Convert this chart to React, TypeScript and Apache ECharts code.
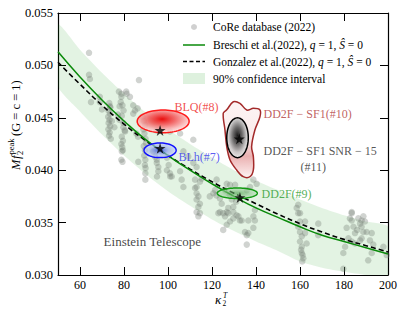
import React, { useEffect, useRef } from 'react';
import * as echarts from 'echarts';

// ---------- data ----------
const xTicks = [60, 80, 100, 120, 140, 160, 180, 200];
const yTicks = [0.030, 0.035, 0.040, 0.045, 0.050, 0.055];

const curveK = [50, 60, 70, 80, 90, 100, 110, 120, 130, 140, 150, 160, 170, 180, 190, 200];
const breschiV = [0.0513, 0.0489, 0.0467, 0.0447, 0.0429, 0.0414, 0.0400, 0.0387, 0.0375, 0.0364, 0.0355, 0.0346, 0.0338, 0.0332, 0.0326, 0.0320];
const gonzalezV = [0.0503, 0.0482, 0.0462, 0.0444, 0.0428, 0.0414, 0.0401, 0.0389, 0.0378, 0.0368, 0.0358, 0.0349, 0.0341, 0.0334, 0.0328, 0.0322];
const bandUpperV = [0.0539, 0.0515, 0.0493, 0.0473, 0.0455, 0.0439, 0.0425, 0.0412, 0.0400, 0.0390, 0.0381, 0.0372, 0.0364, 0.0357, 0.0351, 0.0346];
const bandLowerV = [0.0480, 0.0456, 0.0434, 0.0414, 0.0396, 0.0380, 0.0366, 0.0353, 0.0342, 0.0332, 0.0323, 0.0313, 0.0307, 0.0303, 0.0300, 0.0298];

const coreK = [
  64.1, 64.1, 64.5, 65.0, 69.0, 69.0, 70.0,
  73.3, 73.8, 72.9, 73.6, 72.8, 73.4, 73.0, 73.7, 72.9, 73.5, 73.2, 74.5, 75.6, 74.0, 73.6,
  77.7, 78.8, 81.0, 78.8, 78.5, 78.0, 77.3, 78.0, 79.7, 80.5, 79.0, 80.3, 79.5, 78.8, 79.2, 79.5, 79.0, 78.8, 79.3, 79.3, 79.8, 79.0, 79.7,
  81.2, 82.7, 84.2, 85.0, 84.2, 86.2, 86.4, 85.6, 86.8, 86.5,
  88.5, 89.0, 89.6, 88.8, 89.3, 89.8, 90.0, 89.0, 89.5, 89.2, 89.7, 89.5, 89.8, 89.7, 89.7,
  93.3, 94.1, 94.9, 95.0, 95.6, 94.8, 94.9, 95.6,
  99.5, 100.3, 99.5, 101.0, 100.9, 101.7, 100.9,
  105.5, 106.2, 107.0, 105.5, 107.0, 109.2,
  111.5, 113.0, 112.3, 113.0, 112.3, 113.0, 113.8, 113.0, 114.5, 113.8, 113.0, 113.8, 114.5, 114.5, 115.3, 111.5,
  119.0, 121.4, 122.1, 120.6, 122.0, 123.6, 124.4, 122.9, 125.9, 126.7, 125.1, 128.2, 127.4, 123.6, 125.1, 127.4, 126.7, 128.2, 125.9, 128.0, 129.0, 129.7, 126.7,
  129.7, 132.0, 133.5, 129.7, 136.5, 138.8, 135.0, 135.8, 135.8, 136.5, 138.8, 139.5, 131.2, 132.7, 130.5, 138.8, 137.3, 135.8, 140.3, 139.5, 131.0,
  158.5, 159.2, 160.0, 159.2, 160.0, 159.2, 160.0, 160.8, 160.0, 160.8, 160.8, 161.5, 161.0, 162.3, 162.3, 163.0, 160.5, 161.2,
  168.3, 168.3,
  181.2, 182.0, 180.5, 179.7, 179.7, 183.5, 182.7, 186.5, 187.3, 183.5, 184.3, 185.0, 186.0, 187.3, 183.5, 185.0, 188.0, 188.8, 189.5, 188.0, 188.8, 188.0, 190.3, 192.6, 191.8, 193.3, 192.6, 191.0, 197.9, 199.4, 183.5,
];
const coreV = [
  0.0512, 0.0491, 0.0487, 0.0465, 0.0470, 0.0465, 0.0458,
  0.0464, 0.0460, 0.0457, 0.0454, 0.0451, 0.0448, 0.0445, 0.0442, 0.0439, 0.0436, 0.0433, 0.0447, 0.0441, 0.0430, 0.0461,
  0.0475, 0.0473, 0.0475, 0.0470, 0.0465, 0.0461, 0.0453, 0.0448, 0.0441, 0.0437, 0.0432, 0.0438, 0.0428, 0.0425, 0.0422, 0.0419, 0.0418, 0.0410, 0.0408, 0.0462, 0.0457, 0.0452, 0.0445,
  0.0473, 0.0470, 0.0462, 0.0457, 0.0454, 0.0459, 0.0432, 0.0435, 0.0486, 0.0408,
  0.0451, 0.0447, 0.0443, 0.0439, 0.0435, 0.0430, 0.0426, 0.0423, 0.0419, 0.0414, 0.0410, 0.0405, 0.0402, 0.0397, 0.0391,
  0.0418, 0.0413, 0.0407, 0.0394, 0.0399, 0.0438, 0.0410, 0.0403,
  0.0412, 0.0405, 0.0400, 0.0394, 0.0397, 0.0394, 0.0437,
  0.0399, 0.0391, 0.0384, 0.0435, 0.0418, 0.0413,
  0.0407, 0.0403, 0.0391, 0.0384, 0.0383, 0.0378, 0.0375, 0.0372, 0.0368, 0.0365, 0.0360, 0.0356, 0.0359, 0.0389, 0.0392, 0.0429,
  0.0375, 0.0381, 0.0391, 0.0378, 0.0376, 0.0373, 0.0368, 0.0359, 0.0356, 0.0348, 0.0343, 0.0351, 0.0359, 0.0360, 0.0359, 0.0364, 0.0387, 0.0386, 0.0381, 0.0376, 0.0372, 0.0365, 0.0360,
  0.0360, 0.0356, 0.0352, 0.0354, 0.0352, 0.0345, 0.0341, 0.0338, 0.0329, 0.0340, 0.0356, 0.0362, 0.0357, 0.0352, 0.0386, 0.0391, 0.0384, 0.0381, 0.0387, 0.0352, 0.0370,
  0.0364, 0.0367, 0.0359, 0.0359, 0.0351, 0.0346, 0.0341, 0.0337, 0.0332, 0.0327, 0.0321, 0.0316, 0.0313, 0.0351, 0.0340, 0.0330, 0.0324, 0.0319,
  0.0349, 0.0338,
  0.0345, 0.0335, 0.0327, 0.0321, 0.0306, 0.0359, 0.0354, 0.0354, 0.0349, 0.0352, 0.0346, 0.0340, 0.0343, 0.0333, 0.0332, 0.0330, 0.0352, 0.0356, 0.0351, 0.0346, 0.0341, 0.0335, 0.0341, 0.0340, 0.0333, 0.0329, 0.0321, 0.0314, 0.0327, 0.0319, 0.0360,
];

// posterior contours (ellipses): BLQ, BLh, DD2F-SF1 SNR-15, DD2F
const ellipseK = [97.8, 96.4, 131.6, 131.5];
const ellipseV = [0.04466, 0.0419, 0.0431, 0.0378];
const ellipseRK = [11.8, 7.3, 4.9, 9.1];
const ellipseRV = [0.00108, 0.0007, 0.0019, 0.0005];

// DD2F-SF1 (#10) irregular contour
const sf1K = [129.7, 126.7, 125.1, 125.9, 126.7, 128.2, 131.2, 134.2, 137.3, 138.8, 138.8, 138.0, 139.5, 141.8, 141.8, 138.8, 135.8, 132.7];
const sf1V = [0.04653, 0.04576, 0.04543, 0.04383, 0.04224, 0.04097, 0.04002, 0.03938, 0.03938, 0.04002, 0.04129, 0.04224, 0.04383, 0.04510, 0.04574, 0.04590, 0.04574, 0.04638];

// injected values (stars)
const starK = [96.4, 96.4, 132.4, 132.7];
const starV = [0.0438, 0.0421, 0.0430, 0.0374];

// annotation texts, anchored at their left edge
const noteTexts = ['BLQ(#8)', 'BLh(#7)', 'DD2F − SF1(#10)', 'DD2F − SF1 SNR − 15', '(#11)', 'DD2F(#9)', 'Einstein Telescope'];
const noteK = [102.7, 104.5, 143.2, 143.2, 160.0, 142.3, 70.5];
const noteV = [0.04603, 0.04126, 0.04536, 0.04183, 0.04030, 0.03773, 0.03324];

// ---------- styles ----------
const FONT = "'Liberation Serif', serif";
const noteColors = ['#ee2222', '#3333ee', '#b03838', '#2a2a2a', '#2a2a2a', '#2a9a2a', '#111111'];
const noteSizes = [12, 12, 12, 12, 12, 12, 13];
const STAR = 'path://M50,0 L61,35 L98,35 L68,57 L79,91 L50,70 L21,91 L32,57 L2,35 L39,35 Z';

export default function App() {
  const ref = useRef<HTMLDivElement>(null);

  useEffect(() => {
    document.body.style.margin = '0';
    if (!ref.current) return;
    const chart = echarts.init(ref.current, undefined, { renderer: 'svg' });

    const ellipseStroke = ['#ff1a1a', '#1010ff', '#000000', '#119911'];
    const ellipseFill = [
      new echarts.graphic.RadialGradient(0.48, 0.4, 0.62, [
        { offset: 0, color: 'rgba(232,0,0,0.95)' },
        { offset: 0.4, color: 'rgba(240,80,80,0.85)' },
        { offset: 0.75, color: 'rgba(250,180,180,0.85)' },
        { offset: 1, color: 'rgba(255,240,240,0.9)' },
      ]),
      new echarts.graphic.RadialGradient(0.5, 0.5, 0.6, [
        { offset: 0, color: 'rgba(40,70,220,0.85)' },
        { offset: 0.45, color: 'rgba(140,160,240,0.6)' },
        { offset: 1, color: 'rgba(235,238,255,0.7)' },
      ]),
      new echarts.graphic.RadialGradient(0.5, 0.45, 0.6, [
        { offset: 0, color: 'rgba(15,15,15,0.95)' },
        { offset: 0.35, color: 'rgba(90,90,90,0.9)' },
        { offset: 0.7, color: 'rgba(200,200,200,0.9)' },
        { offset: 1, color: 'rgba(248,248,248,0.95)' },
      ]),
      new echarts.graphic.RadialGradient(0.5, 0.5, 0.6, [
        { offset: 0, color: 'rgba(60,150,60,0.6)' },
        { offset: 1, color: 'rgba(210,240,210,0.6)' },
      ]),
    ];

    const option: any = {
      animation: false,
      grid: { left: 58, right: 19, top: 13, bottom: 39, containLabel: false },
      xAxis: [
        {
          type: 'value', min: 50, max: 200, position: 'bottom',
          axisLine: { lineStyle: { color: '#000', width: 1.2 } },
          axisTick: { inside: true, length: 8, customValues: xTicks, lineStyle: { color: '#000', width: 1 } },
          axisLabel: { customValues: xTicks, color: '#000', fontSize: 12, fontFamily: FONT, margin: 4 },
          splitLine: { show: false },
        },
        {
          type: 'value', min: 50, max: 200, position: 'top',
          axisLine: { lineStyle: { color: '#000', width: 1.2 } },
          axisTick: { inside: true, length: 8, customValues: xTicks, lineStyle: { color: '#000', width: 1 } },
          axisLabel: { show: false },
          splitLine: { show: false },
        },
      ],
      yAxis: [
        {
          type: 'value', min: 0.030, max: 0.055, position: 'left',
          axisLine: { show: true, lineStyle: { color: '#000', width: 1.2 } },
          axisTick: { show: true, inside: true, length: 8, customValues: yTicks, lineStyle: { color: '#000', width: 1 } },
          axisLabel: { customValues: yTicks, color: '#000', fontSize: 12.5, fontFamily: FONT, margin: 5, formatter: (v: number) => v.toFixed(3) },
          splitLine: { show: false },
        },
        {
          type: 'value', min: 0.030, max: 0.055, position: 'right',
          axisLine: { show: true, lineStyle: { color: '#000', width: 1.2 } },
          axisTick: { show: true, inside: true, length: 8, customValues: yTicks, lineStyle: { color: '#000', width: 1 } },
          axisLabel: { show: false },
          splitLine: { show: false },
        },
      ],
      series: [
        {
          name: '90% confidence interval', type: 'custom', clip: true, z: 1,
          data: [[curveK[0], bandUpperV[0]]],
          renderItem: (_p: any, api: any) => {
            const up = curveK.map((k, i) => api.coord([k, bandUpperV[i]]));
            const lo = curveK.map((k, i) => api.coord([k, bandLowerV[i]])).reverse();
            return { type: 'polygon', shape: { points: up.concat(lo), smooth: 0.2 }, style: { fill: 'rgba(0,150,0,0.11)', stroke: 'none' } };
          },
        },
        {
          name: 'CoRe database (2022)', type: 'scatter', z: 2,
          data: coreK.map((k, i) => [k, coreV[i]]),
          symbolSize: 6.5,
          itemStyle: { color: 'rgba(115,125,115,0.42)' },
        },
        {
          name: 'Gonzalez et al.(2022)', type: 'line', z: 3, smooth: true, symbol: 'none',
          data: curveK.map((k, i) => [k, gonzalezV[i]]),
          lineStyle: { color: '#000', width: 1.6, type: [5, 3] },
        },
        {
          name: 'Breschi et al.(2022)', type: 'line', z: 3, smooth: true, symbol: 'none',
          data: curveK.map((k, i) => [k, breschiV[i]]),
          lineStyle: { color: '#0a8a0a', width: 1.5 },
        },
        {
          name: 'DD2F-SF1(#10)', type: 'custom', z: 4,
          data: [[sf1K[0], sf1V[0]]],
          renderItem: (_p: any, api: any) => {
            const pts = sf1K.map((k, i) => api.coord([k, sf1V[i]]));
            return {
              type: 'polygon', shape: { points: pts, smooth: 0.35 },
              style: {
                fill: new echarts.graphic.LinearGradient(0, 0, 0, 1, [
                  { offset: 0, color: 'rgba(252,244,244,0.95)' },
                  { offset: 0.5, color: 'rgba(250,234,234,0.95)' },
                  { offset: 0.72, color: 'rgba(232,168,168,0.9)' },
                  { offset: 0.9, color: 'rgba(246,214,214,0.9)' },
                  { offset: 1, color: 'rgba(252,242,242,0.9)' },
                ]),
                stroke: '#a32a2a', lineWidth: 1.5,
              },
            };
          },
        },
        {
          name: 'posteriors', type: 'custom', z: 5,
          data: ellipseK.map((k, i) => [k, ellipseV[i]]),
          renderItem: (p: any, api: any) => {
            const i = p.dataIndex;
            const pts: number[][] = [];
            for (let j = 0; j < 72; j++) {
              const t = (j / 72) * Math.PI * 2;
              pts.push(api.coord([ellipseK[i] + ellipseRK[i] * Math.cos(t), ellipseV[i] + ellipseRV[i] * Math.sin(t)]));
            }
            return { type: 'polygon', shape: { points: pts }, style: { fill: ellipseFill[i], stroke: ellipseStroke[i], lineWidth: 1.5 } };
          },
        },
        {
          name: 'injections', type: 'scatter', z: 6,
          data: starK.map((k, i) => [k, starV[i]]),
          symbol: STAR, symbolSize: 11,
          itemStyle: { color: '#000' },
        },
        {
          name: 'notes', type: 'scatter', z: 7,
          data: noteK.map((k, i) => ({
            value: [k, noteV[i]],
            label: {
              show: true, position: 'right', distance: 0,
              formatter: noteTexts[i], color: noteColors[i], fontSize: noteSizes[i], fontFamily: FONT,
            },
          })),
          symbolSize: 1,
          itemStyle: { color: 'rgba(0,0,0,0)' },
        },
      ],
      graphic: [
        // y axis title
        {
          type: 'group', x: 16, y: 123, rotation: Math.PI / 2,
          children: [
            { type: 'text', x: -47, y: 0, style: { text: 'M', font: `italic 12.5px ${FONT}`, fill: '#000', verticalAlign: 'middle' } },
            { type: 'text', x: -36, y: 0, style: { text: 'f', font: `italic 12.5px ${FONT}`, fill: '#000', verticalAlign: 'middle' } },
            { type: 'text', x: -31.5, y: -5, style: { text: 'peak', font: `8.5px ${FONT}`, fill: '#000', verticalAlign: 'middle' } },
            { type: 'text', x: -32, y: 4, style: { text: '2', font: `8.5px ${FONT}`, fill: '#000', verticalAlign: 'middle' } },
            { type: 'text', x: -13, y: 0, style: { text: '(G = c = 1)', font: `12.5px ${FONT}`, fill: '#000', verticalAlign: 'middle' } },
          ],
        },
        // x axis title
        { type: 'text', x: 215, y: 299.5, style: { text: 'κ', font: `italic 13px ${FONT}`, fill: '#000', verticalAlign: 'middle' } },
        { type: 'text', x: 223, y: 295, style: { text: 'T', font: `italic 7.5px ${FONT}`, fill: '#000', verticalAlign: 'middle' } },
        { type: 'text', x: 222.5, y: 303.5, style: { text: '2', font: `7.5px ${FONT}`, fill: '#000', verticalAlign: 'middle' } },
        // legend
        { type: 'circle', shape: { cx: 194, cy: 27, r: 3 }, style: { fill: 'rgba(120,120,120,0.35)' } },
        { type: 'line', shape: { x1: 183, y1: 45, x2: 205, y2: 45 }, style: { stroke: '#0a8a0a', lineWidth: 1.5 } },
        { type: 'line', shape: { x1: 183, y1: 61.5, x2: 205, y2: 61.5 }, style: { stroke: '#000', lineWidth: 1.6, lineDash: [4, 2.5] } },
        { type: 'rect', shape: { x: 183, y: 73, width: 22, height: 11 }, style: { fill: 'rgba(0,150,0,0.13)' } },
        { type: 'text', x: 213, y: 27, style: { text: 'CoRe database (2022)', font: `11.5px ${FONT}`, fill: '#000', verticalAlign: 'middle' } },
        {
          type: 'text', x: 213, y: 45,
          style: {
            text: '{n|Breschi et al.(2022), }{i|q}{n| = 1, }{i|Ŝ}{n| = 0}', verticalAlign: 'middle',
            rich: { n: { fontSize: 11.5, fontFamily: FONT, fill: '#000' }, i: { fontSize: 11.5, fontStyle: 'italic', fontFamily: FONT, fill: '#000' } },
          },
        },
        {
          type: 'text', x: 213, y: 61.5,
          style: {
            text: '{n|Gonzalez et al.(2022), }{i|q}{n| = 1, }{i|Ŝ}{n| = 0}', verticalAlign: 'middle',
            rich: { n: { fontSize: 11.5, fontFamily: FONT, fill: '#000' }, i: { fontSize: 11.5, fontStyle: 'italic', fontFamily: FONT, fill: '#000' } },
          },
        },
        { type: 'text', x: 213, y: 78.5, style: { text: '90% confidence interval', font: `11.5px ${FONT}`, fill: '#000', verticalAlign: 'middle' } },
      ],
    };

    chart.setOption(option);
    return () => chart.dispose();
  }, []);

  return <div ref={ref} style={{ width: 407, height: 314 }} />;
}
